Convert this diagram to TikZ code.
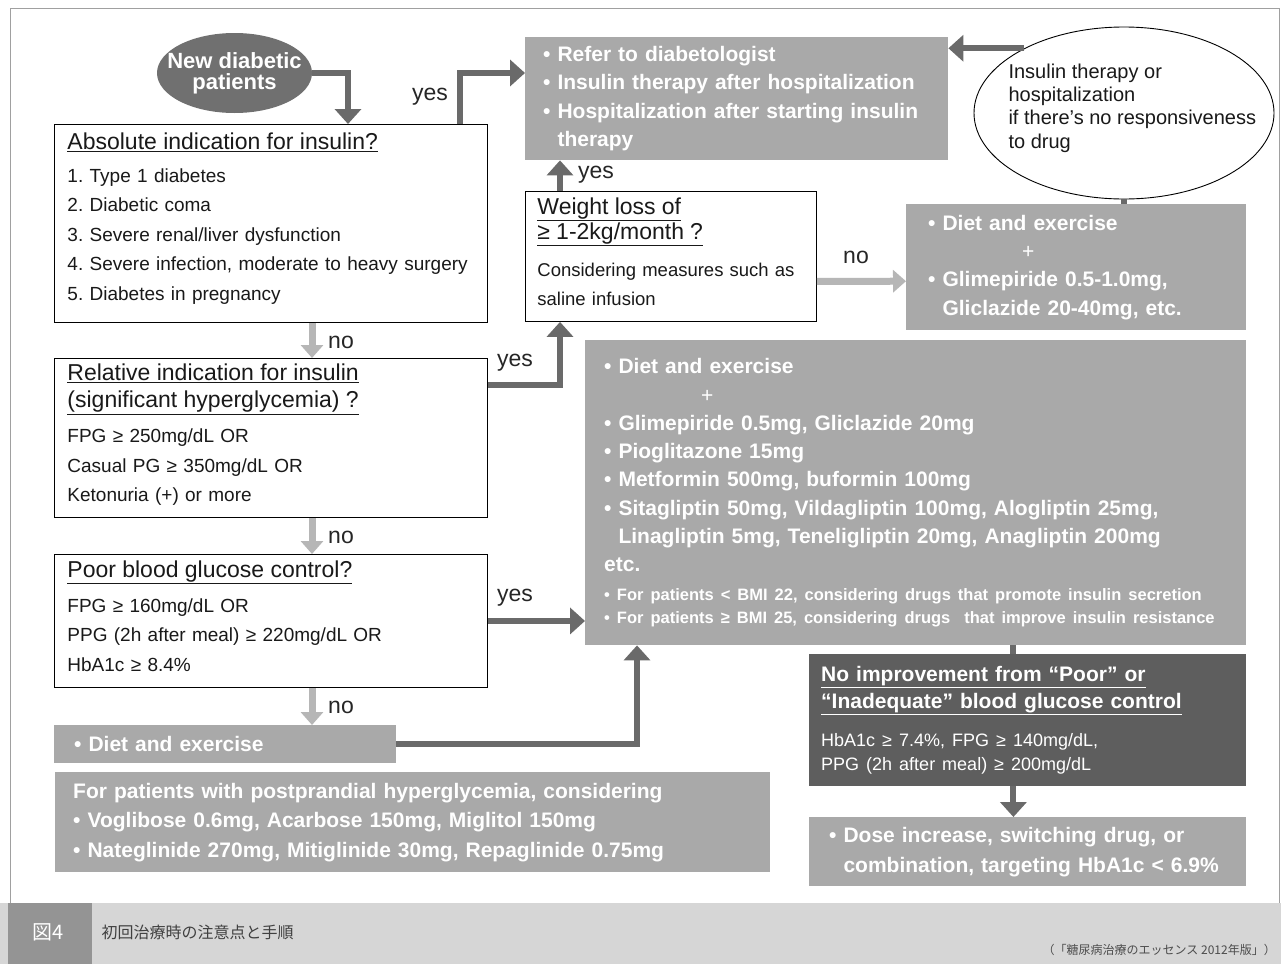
\documentclass[tikz,border=0pt]{standalone}
\usepackage{fontspec}
\setmainfont{Liberation Sans}
\newfontfamily\jpfont{Noto Sans CJK JP}
\usepackage{tikz}
\usetikzlibrary{arrows.meta,shapes.geometric}
\definecolor{panelgray}{HTML}{A9A9A9}
\definecolor{darkpanel}{HTML}{5E5E5E}
\definecolor{newgray}{HTML}{707070}
\definecolor{arrdark}{HTML}{6A6A6A}
\definecolor{arrlight}{HTML}{B6B6B6}
\definecolor{framegray}{HTML}{A0A0A0}
\definecolor{capgray}{HTML}{D6D6D6}
\definecolor{taggray}{HTML}{949494}
\frenchspacing

\begin{document}
\begin{tikzpicture}[x=1pt,y=-1pt,
    wbox/.style={draw=black,line width=0.9pt,fill=white,text=black!90,anchor=north west,align=left,
        inner xsep=13pt,inner ysep=0pt,font=\fontsize{19}{29.5}\selectfont},
    gbox/.style={fill=panelgray,text=white,anchor=north west,align=left,
        inner xsep=18pt,inner ysep=0pt,font=\bfseries\fontsize{21}{28.3}\selectfont},
    darr/.style={draw=arrdark,line width=6pt,-{Triangle[width=26pt,length=15pt]}},
    larr/.style={draw=arrlight,line width=7pt,-{Triangle[width=22pt,length=13pt]}},
    stub/.style={draw=arrdark,line width=6pt},
    lbl/.style={text=black!85,font=\fontsize{23}{23}\selectfont}]
    \fill[white] (0,0) rectangle (1281,964);
    \draw[framegray,line width=0.8pt] (10,8) rectangle (1279,903);

    \node[ellipse,fill=newgray,minimum width=155pt,minimum height=80pt,inner sep=0pt] (new) at (234.5,73) {};
    \node[text=white,align=center,font=\bfseries\fontsize{22}{21}\selectfont] (newtxt) at (new) {New diabetic\\patients};

    \node[wbox,text width=407pt,minimum height=198pt] (abs) at (54,124) {%
        {\fontsize{23}{29}\selectfont\underline{Absolute indication for insulin?}}\\[3.5pt]
        1. Type 1 diabetes\\
        2. Diabetic coma\\
        3. Severe renal/liver dysfunction\\
        4. Severe infection, moderate to heavy surgery\\
        5. Diabetes in pregnancy\\[-15.5pt]\mbox{}};
    \node[wbox,text width=407pt,minimum height=159pt] (rel) at (54,358) {%
        {\fontsize{23}{29}\selectfont\underline{Relative indication for insulin}}\\[-2.5pt]
        {\fontsize{23}{29}\selectfont\underline{(significant hyperglycemia) ?}}\\[5.5pt]
        FPG ≥ 250mg/dL OR\\
        Casual PG ≥ 350mg/dL OR\\
        Ketonuria (+) or more\\[-19.5pt]\mbox{}};
    \node[wbox,text width=407pt,minimum height=133pt] (poor) at (54,554) {%
        {\fontsize{23}{29}\selectfont\underline{Poor blood glucose control?}}\\[5.5pt]
        FPG ≥ 160mg/dL OR\\
        PPG (2h after meal) ≥ 220mg/dL OR\\
        HbA1c ≥ 8.4\%\\[-19.5pt]\mbox{}};
    \node[gbox,text width=302pt,minimum height=38pt,inner xsep=20pt] (diet) at (54,725) {• Diet and exercise};
    \node[gbox,text width=679pt,minimum height=100pt,font=\bfseries\fontsize{21}{29.5}\selectfont] (pp) at (55,772) {%
        For patients with postprandial hyperglycemia, considering\\
        • Voglibose 0.6mg, Acarbose 150mg, Miglitol 150mg\\
        • Nateglinide 270mg, Mitiglinide 30mg, Repaglinide 0.75mg};

    \node[gbox,text width=387pt,minimum height=123pt] (refer) at (525,37) {%
        • Refer to diabetologist\\
        • Insulin therapy after hospitalization\\
        • Hospitalization after starting insulin\\
        \hphantom{• }therapy};
    \node[wbox,text width=267pt,minimum height=130pt,inner xsep=12pt,font=\fontsize{18.5}{29.5}\selectfont] (wt) at (525,191) {%
        {\fontsize{23}{29}\selectfont\underline{Weight loss of}}\\[-4.5pt]
        {\fontsize{23}{29}\selectfont\underline{≥ 1-2kg/month ?}}\\[7.5pt]
        Considering measures such as\\
        saline infusion\\[-19.5pt]\mbox{}};
    \node[ellipse,draw=black,line width=0.9pt,fill=white,minimum width=300pt,minimum height=172pt,inner sep=0pt] (ins) at (1124,113) {};
    \node[anchor=west,align=left,text=black!90,font=\fontsize{20}{23.3}\selectfont] (instxt) at (1005,108) {%
        Insulin therapy or\\hospitalization\\if there's no responsiveness\\to drug};
    \node[gbox,text width=296pt,minimum height=126pt,inner xsep=22pt] (dietA) at (906,204) {%
        • Diet and exercise\\
        \hspace*{94pt}{\mdseries +}\\
        • Glimepiride 0.5-1.0mg,\\
        \hphantom{• }Gliclazide 20-40mg, etc.};
    \node[gbox,text width=623pt,minimum height=305pt,inner xsep=19pt] (big) at (585,340) {%
        • Diet and exercise\\
        \hspace*{97pt}{\mdseries +}\\
        • Glimepiride 0.5mg, Gliclazide 20mg\\
        • Pioglitazone 15mg\\
        • Metformin 500mg, buformin 100mg\\
        • Sitagliptin 50mg, Vildagliptin 100mg, Alogliptin 25mg,\\
        \hphantom{• }Linagliptin 5mg, Teneligliptin 20mg, Anagliptin 200mg\\
        etc.\\
        {\fontsize{16.5}{20}\selectfont • For patients < BMI 22, considering drugs that promote insulin secretion}\\[-5pt]
        {\fontsize{16.5}{20}\selectfont • For patients ≥ BMI 25, considering drugs\ \ that improve insulin resistance}};
    \node[gbox,fill=darkpanel,text width=413pt,minimum height=132pt,inner xsep=12pt] (noimp) at (809,654) {%
        \underline{No improvement from “Poor” or}\\[-1.3pt]
        \underline{“Inadequate” blood glucose control}\\[9.7pt]
        {\mdseries\fontsize{18}{24}\selectfont HbA1c ≥ 7.4\%, FPG ≥ 140mg/dL,}\\[-4.3pt]
        {\mdseries\fontsize{18}{24}\selectfont PPG (2h after meal) ≥ 200mg/dL}};
    \node[gbox,text width=397pt,minimum height=69pt,inner xsep=20pt,font=\bfseries\fontsize{21}{30}\selectfont] (dose) at (809,817) {%
        • Dose increase, switching drug, or\\
        \hphantom{• }combination, targeting HbA1c < 6.9\%};

    \node[lbl] (yesabs) at (430,97) {yes};
    \node[lbl] (yeswt) at (596,175) {yes};
    \node[lbl] (nowt) at (856,257) {no};
    \node[lbl] (yesrel) at (515,363) {yes};
    \node[lbl] (yespoor) at (515,598) {yes};

    \draw[darr] (new.east) -| ([xshift=294pt]abs.north west);
    \draw[darr] ([xshift=406pt]abs.north west) |- ([yshift=-36pt]refer.north west);
    \draw[darr] (ins.147) -- (ins.147 -| refer.east);
    \draw[stub] (ins.south) -- (ins.south |- dietA.north);
    \draw[darr] ([xshift=35pt]wt.north west) -- ([xshift=35pt]refer.south west);
    \draw[larr] ([yshift=-25pt]wt.east) -- ([yshift=-14pt]dietA.west);
    \draw[darr] ([yshift=-27pt]rel.north east) -| ([xshift=35pt]wt.south west);
    \draw[darr] (poor.east) -- (poor.east -| big.west);
    \draw[darr] (diet.east) -| ([xshift=52pt]big.south west);
    \draw[stub] ([xshift=-233pt]big.south east) -- ([xshift=-233pt]noimp.north east);
    \draw[darr] ([xshift=-233pt]noimp.south east) -- ([xshift=-233pt]dose.north east);
    \foreach \a/\b/\y in {abs/rel/342,rel/poor/537,poor/diet/707}{
        \draw[larr] ([xshift=258pt]\a.south west) -- ([xshift=258pt]\b.north west);
        \node[lbl] (no\b) at (341,\y) {no};
    }

    \fill[capgray] (0,903) rectangle (1281,964);
    \fill[taggray] (8,903) rectangle (92,964);
    \node[text=white,font=\jpfont\fontsize{20}{20}\selectfont] (tag) at (48,932) {図4};
    \node[anchor=west,text=black!75,font=\jpfont\fontsize{16}{16}\selectfont] (cap) at (98,932) {初回治療時の注意点と手順};
    \node[anchor=east,inner sep=0pt,text=black!70,font=\jpfont\fontsize{12}{12}\selectfont] (src) at (1276,950) {（「糖尿病治療のエッセンス 2012年版」）};
\end{tikzpicture}
\end{document}
